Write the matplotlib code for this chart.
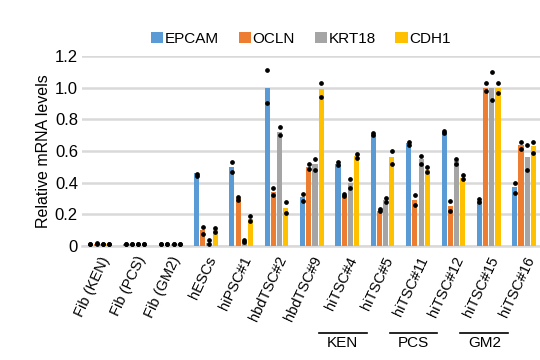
import matplotlib.pyplot as plt
import numpy as np

plt.rcParams['font.family'] = ['Liberation Sans', 'DejaVu Sans']

samples = ["Fib (KEN)", "Fib (PCS)", "Fib (GM2)", "hESCs", "hiPSC#1", "hbdTSC#2",
           "hbdTSC#9", "hiTSC#4", "hiTSC#5", "hiTSC#11", "hiTSC#12", "hiTSC#15", "hiTSC#16"]
genes = ["EPCAM", "OCLN", "KRT18", "CDH1"]
colors = ["#5B9BD5", "#ED7D31", "#A5A5A5", "#FFC000"]

# mean relative mRNA level per sample, one list per gene
epcam = [0.01, 0.01, 0.01, 0.46, 0.50, 1.00, 0.31, 0.52, 0.70, 0.65, 0.72, 0.285, 0.37]
ocln = [0.015, 0.01, 0.01, 0.10, 0.30, 0.34, 0.50, 0.32, 0.22, 0.29, 0.25, 1.00, 0.635]
krt18 = [0.01, 0.01, 0.01, 0.02, 0.03, 0.72, 0.515, 0.40, 0.29, 0.55, 0.54, 1.00, 0.56]
cdh1 = [0.01, 0.01, 0.01, 0.10, 0.17, 0.24, 0.99, 0.567, 0.565, 0.48, 0.43, 1.00, 0.63]

# two replicates per bar
epcam_rep = [(0.01, 0.01), (0.01, 0.01), (0.01, 0.01), (0.455, 0.445), (0.53, 0.465),
             (1.11, 0.906), (0.33, 0.285), (0.53, 0.51), (0.715, 0.70), (0.656, 0.64),
             (0.727, 0.715), (0.296, 0.28), (0.40, 0.333)]
ocln_rep = [(0.02, 0.01), (0.01, 0.01), (0.01, 0.01), (0.12, 0.077), (0.31, 0.29),
            (0.365, 0.32), (0.515, 0.485), (0.33, 0.315), (0.233, 0.219), (0.323, 0.256),
            (0.285, 0.22), (1.03, 0.98), (0.66, 0.615)]
krt18_rep = [(0.01, 0.01), (0.01, 0.01), (0.01, 0.01), (0.04, 0.015), (0.035, 0.025),
             (0.75, 0.70), (0.55, 0.48), (0.42, 0.365), (0.30, 0.277), (0.57, 0.52),
             (0.55, 0.52), (1.10, 0.92), (0.635, 0.48)]
cdh1_rep = [(0.01, 0.01), (0.01, 0.01), (0.01, 0.01), (0.11, 0.09), (0.186, 0.16),
            (0.277, 0.21), (1.03, 0.94), (0.58, 0.556), (0.60, 0.52), (0.50, 0.465),
            (0.446, 0.42), (1.03, 0.97), (0.656, 0.59)]

means = [epcam, ocln, krt18, cdh1]
reps = [epcam_rep, ocln_rep, krt18_rep, cdh1_rep]

groups = [("KEN", 7, 8), ("PCS", 9, 10), ("GM2", 11, 12)]

fig = plt.figure(figsize=(5.4, 3.6), dpi=100)
ax = fig.add_axes([0.152, 0.317, 0.848, 0.527])

x = np.arange(len(samples))
pitch = 0.175
width = 0.145
for i, g in enumerate(genes):
    xs = x + (i - 1.5) * pitch
    ax.bar(xs, means[i], width, color=colors[i], label=g, zorder=3)
    for xi, (r1, r2) in zip(xs, reps[i]):
        ax.plot([xi, xi], [r1, r2], 'o', color='black', markersize=2.4, zorder=4)

ax.set_ylim(0, 1.2)
ax.set_xlim(-0.5, 12.45)
ax.set_yticks(np.arange(0, 1.21, 0.2))
ax.set_yticklabels(["0", "0.2", "0.4", "0.6", "0.8", "1.0", "1.2"], fontsize=12)
ax.yaxis.grid(True, color='#d9d9d9', linewidth=1.8, zorder=0)
ax.set_axisbelow(True)
for s in ["top", "right", "left"]:
    ax.spines[s].set_visible(False)
ax.spines["bottom"].set_color('#d9d9d9')
ax.spines["bottom"].set_linewidth(1.8)
ax.tick_params(axis='both', length=0)
ax.tick_params(axis='y', pad=3)
ax.set_ylabel("Relative mRNA levels", fontsize=11.5, labelpad=3)

ax.set_xticks(x)
ax.set_xticklabels(samples, rotation=65, ha='right', rotation_mode='anchor', fontsize=10.5)
ax.tick_params(axis='x', pad=6)

# cell-line brackets under labels
for name, a, b in groups:
    x0 = ax.transData.transform((a - 0.8, 0))[0]
    x1 = ax.transData.transform((b - 0.45, 0))[0]
    fx0 = fig.transFigure.inverted().transform((x0, 0))[0]
    fx1 = fig.transFigure.inverted().transform((x1, 0))[0]
    fig.add_artist(plt.Line2D([fx0, fx1], [0.075, 0.075], color='black', linewidth=1.2))
    fig.text((fx0 + fx1) / 2, 0.046, name, ha='center', va='center', fontsize=11)

fig.legend(loc='upper center', bbox_to_anchor=(0.557, 0.95), ncol=4, frameon=False,
           fontsize=11, handlelength=0.8, handleheight=0.8, handletextpad=0.1,
           columnspacing=1.3)

fig.savefig("out.png", dpi=100)
